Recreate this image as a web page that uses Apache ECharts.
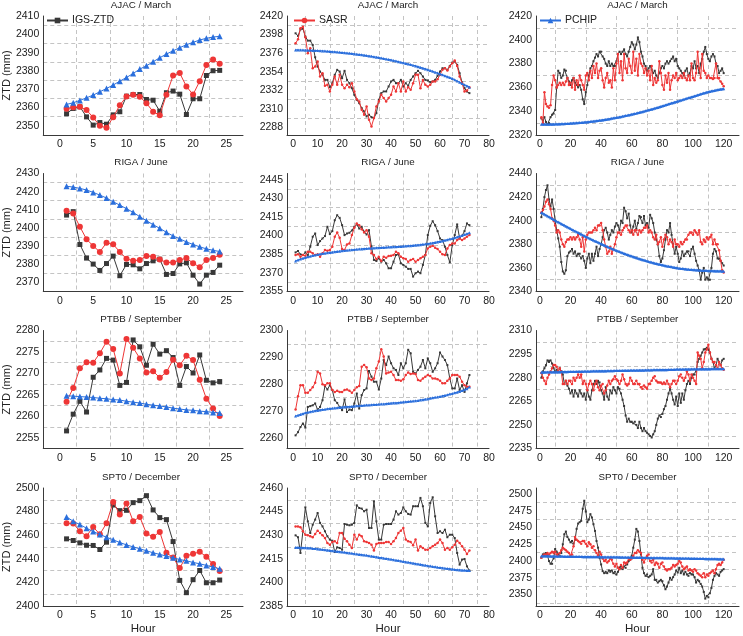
<!DOCTYPE html>
<html><head><meta charset="utf-8">
<script src="https://cdn.jsdelivr.net/npm/echarts@6/dist/echarts.min.js"></script>
<style>html,body{margin:0;padding:0;background:#fff}#c{width:743px;height:636px}</style>
</head><body><div id="c"></div>
<script>
// ---------- x values (hours) ----------
const hours24 = Array.from({length:24},(_,i)=>i+1);
const hours72 = Array.from({length:72},(_,i)=>i+1);
const hours120 = Array.from({length:120},(_,i)=>i+1);

const seriesNames = ['IGS-ZTD','SASR','PCHIP'];
const titles = ['AJAC / March','RIGA / June','PTBB / September','SPT0 / December'];

// ---------- AJAC / March ----------
const ajac24_igs = [2356.6,2359.5,2360.4,2354.9,2350.4,2351.8,2350.9,2356.0,2357.7,2366.2,2367.1,2367.1,2364.4,2364.0,2358.0,2368.1,2369.0,2367.3,2356.2,2364.8,2364.8,2377.5,2380.1,2380.3];
const ajac24_sasr = [2359.3,2360.2,2360.4,2358.6,2354.6,2350.0,2348.9,2354.7,2361.3,2366.0,2367.0,2365.9,2362.4,2357.7,2355.8,2367.0,2377.5,2378.8,2371.5,2367.1,2374.4,2383.2,2386.3,2383.9];
const ajac24_pchip = [2361.7,2362.6,2363.9,2365.3,2366.8,2368.6,2370.4,2372.3,2374.4,2376.4,2378.6,2381.0,2382.8,2385.0,2387.2,2389.2,2391.0,2392.7,2394.3,2395.6,2396.9,2397.8,2398.5,2398.9];

const ajac72_igs = [2399.5,2396.4,2404.2,2405.0,2395.6,2390.8,2390.8,2385.7,2371.1,2360.1,
2354.2,2350.3,2344.3,2344.3,2335.7,2340.4,2350.3,2356.2,2354.2,2346.3,
2355.0,2344.3,2340.4,2334.5,2326.6,2320.7,2316.8,2310.9,2306.9,2301.0,
2303.0,2300.2,2299.0,2304.9,2320.7,2328.6,2330.6,2330.6,2336.5,2342.4,
2344.3,2340.4,2340.4,2344.3,2336.5,2340.4,2337.3,2344.3,2348.3,2352.2,
2355.0,2352.2,2348.3,2344.3,2343.6,2341.6,2342.4,2344.3,2349.1,2354.2,
2358.1,2358.1,2356.2,2360.9,2364.8,2366.0,2362.1,2352.2,2341.2,2334.5,2330.6,2328.6];
const ajac72_sasr = [2387.7,2392.4,2405.4,2407.4,2394.8,2375.9,2381.8,2358.1,2360.1,2366.0,
2348.3,2352.2,2337.3,2338.4,2330.6,2338.4,2348.3,2338.4,2350.3,2338.4,
2334.5,2338.4,2335.7,2340.4,2330.6,2321.5,2318.7,2308.9,2303.0,2312.8,
2297.1,2289.2,2299.0,2312.8,2318.7,2326.6,2322.7,2318.7,2322.7,2326.6,
2336.5,2330.6,2340.4,2330.6,2342.4,2330.6,2335.7,2332.5,2340.4,2350.3,
2350.3,2334.5,2344.3,2338.4,2336.5,2338.4,2342.4,2342.4,2345.1,2350.3,
2356.2,2358.1,2355.4,2360.1,2364.0,2367.2,2360.9,2348.3,2340.4,2330.6,2331.7,2335.7];
const ajac72_pchip = [2379.8,2379.8,2379.7,2379.6,2379.5,2379.4,2379.3,2379.2,2379.1,2379.0,
2378.8,2378.6,2378.4,2378.2,2378.0,2377.7,2377.5,2377.2,2377.0,2376.7,
2376.4,2376.1,2375.8,2375.5,2375.1,2374.8,2374.4,2374.0,2373.6,2373.1,
2372.7,2372.2,2371.7,2371.2,2370.7,2370.1,2369.6,2369.0,2368.5,2368.0,
2367.3,2366.6,2365.9,2365.2,2364.5,2363.8,2363.1,2362.4,2361.6,2360.9,
2360.0,2359.1,2358.2,2357.3,2356.4,2355.4,2354.4,2353.4,2352.4,2351.4,
2350.3,2349.2,2348.1,2347.0,2345.9,2344.5,2343.0,2341.6,2340.1,2338.6,2337.2,2335.7];

const ajac120_igs = [2334,2332,2335,2331,2329,2330,2335,2337,2338,2341,
2360,2374,2372,2368,2370,2375,2374,2368,2365,2362,
2366,2368,2364,2362,2360,2362,2358,2350,2346,2356,
2362,2370,2376,2378,2382,2385,2388,2386,2390,2390,
2386,2384,2380,2378,2382,2378,2380,2378,2378,2382,
2388,2390,2388,2390,2392,2388,2386,2390,2394,2398,
2396,2392,2396,2402,2398,2390,2386,2380,2378,2374,
2376,2378,2375,2372,2374,2370,2368,2372,2376,2378,
2376,2380,2382,2380,2382,2384,2386,2382,2384,2378,
2376,2374,2372,2370,2374,2376,2370,2372,2378,2376,
2382,2376,2378,2372,2380,2384,2390,2394,2388,2384,
2382,2386,2388,2386,2380,2378,2372,2374,2376,2372];
const ajac120_sasr = [2335,2330,2356,2346,2344,2343,2345,2362,2370,2366,
2360,2362,2364,2362,2364,2362,2365,2368,2362,2364,
2360,2368,2358,2366,2362,2370,2366,2362,2358,2370,
2372,2366,2374,2368,2378,2372,2380,2368,2374,2376,
2366,2360,2368,2372,2364,2366,2360,2376,2366,2380,
2388,2372,2382,2366,2388,2376,2372,2384,2378,2372,
2390,2374,2384,2370,2388,2380,2378,2372,2376,2370,
2374,2366,2378,2362,2368,2364,2366,2382,2372,2362,
2358,2370,2364,2372,2358,2366,2370,2368,2372,2366,
2368,2370,2368,2372,2368,2366,2370,2366,2380,2368,
2366,2372,2390,2376,2368,2388,2374,2372,2368,2370,
2368,2368,2367,2368,2380,2368,2368,2365,2363,2361];
const ajac120_pchip = [2329.0,2329.0,2329.0,2329.0,2329.0,2329.1,2329.1,2329.1,2329.1,2329.2,
2329.2,2329.3,2329.3,2329.4,2329.4,2329.5,2329.6,2329.6,2329.7,2329.8,
2329.9,2330.0,2330.1,2330.2,2330.3,2330.4,2330.5,2330.6,2330.8,2330.9,
2331.0,2331.2,2331.3,2331.5,2331.6,2331.8,2332.0,2332.1,2332.3,2332.5,
2332.7,2332.9,2333.1,2333.3,2333.5,2333.7,2334.0,2334.2,2334.4,2334.7,
2334.9,2335.2,2335.4,2335.7,2336.0,2336.3,2336.5,2336.8,2337.1,2337.4,
2337.7,2338.0,2338.3,2338.7,2339.0,2339.3,2339.6,2340.0,2340.3,2340.7,
2341.0,2341.4,2341.7,2342.1,2342.5,2342.8,2343.2,2343.6,2344.0,2344.4,
2344.8,2345.2,2345.6,2346.0,2346.4,2346.8,2347.2,2347.6,2348.0,2348.4,
2348.8,2349.2,2349.6,2350.0,2350.4,2350.8,2351.2,2351.6,2352.0,2352.4,
2352.8,2353.2,2353.6,2354.0,2354.4,2354.8,2355.2,2355.6,2356.0,2356.3,
2356.6,2356.9,2357.2,2357.5,2357.8,2358.1,2358.3,2358.5,2358.7,2358.9];

// ---------- RIGA / June ----------
const riga24_igs = [2407.1,2409.0,2390.9,2383.4,2380.1,2376.6,2380.4,2384.5,2373.7,2379.9,2379.7,2377.5,2380.4,2381.9,2382.8,2374.4,2374.9,2380.2,2380.8,2374.0,2369.1,2374.0,2375.5,2379.5];
const riga24_sasr = [2409.5,2408.0,2400.7,2393.8,2390.1,2386.8,2391.9,2391.0,2386.8,2383.0,2381.9,2382.4,2384.6,2384.1,2382.6,2381.0,2381.0,2382.3,2383.4,2380.6,2378.4,2382.3,2383.4,2385.2];
const riga24_pchip = [2423.0,2422.5,2421.8,2420.9,2419.6,2418.1,2416.5,2414.4,2412.6,2410.6,2408.6,2406.2,2404.0,2401.8,2399.8,2397.6,2395.6,2394.0,2392.3,2390.9,2389.6,2388.5,2387.7,2387.0];

const riga72_igs = [2386.5,2387.6,2384.9,2384.4,2386.5,2384.4,2391.1,2399.1,2401.7,2392.4,
2395.6,2397.7,2399.6,2407.1,2401.2,2403.6,2412.4,2416.4,2414.3,2408.4,
2400.4,2401.7,2402.3,2404.1,2407.1,2409.0,2405.7,2407.1,2403.1,2400.9,
2404.4,2391.1,2380.4,2379.6,2381.7,2379.0,2380.4,2377.7,2373.7,2373.7,
2379.0,2384.4,2384.9,2377.7,2376.4,2375.0,2373.2,2373.2,2367.0,2369.7,
2371.0,2369.7,2376.4,2384.4,2400.4,2407.9,2411.6,2408.4,2403.6,2397.7,
2396.4,2391.1,2384.4,2378.5,2392.4,2400.4,2409.0,2397.7,2399.9,2403.6,2409.8,2408.4];
const riga72_sasr = [2384.4,2384.9,2383.0,2384.4,2383.8,2387.0,2387.0,2385.7,2384.4,2384.9,
2383.0,2385.7,2388.4,2387.9,2388.4,2391.1,2399.1,2402.5,2398.3,2389.2,
2388.4,2392.9,2393.7,2400.4,2406.3,2409.8,2408.4,2405.2,2402.5,2404.4,
2399.1,2385.7,2384.4,2381.2,2383.0,2379.6,2383.0,2382.2,2383.6,2383.8,
2384.4,2387.0,2385.7,2383.0,2381.7,2381.2,2379.0,2380.4,2381.2,2379.0,
2380.4,2381.7,2383.0,2384.4,2389.7,2391.1,2391.9,2390.3,2389.2,2387.0,
2384.9,2384.4,2389.7,2392.4,2393.7,2393.7,2396.4,2397.7,2396.4,2397.7,2399.1,2400.4];
const riga72_pchip = [2379.6,2380.4,2381.1,2381.7,2382.3,2382.9,2383.4,2383.9,2384.3,2384.7,
2385.1,2385.5,2385.8,2386.1,2386.4,2386.7,2387.0,2387.3,2387.5,2387.8,
2388.0,2388.2,2388.4,2388.6,2388.8,2389.0,2389.2,2389.3,2389.5,2389.6,
2389.8,2389.9,2390.0,2390.2,2390.3,2390.4,2390.5,2390.6,2390.8,2390.9,
2391.0,2391.1,2391.2,2391.3,2391.5,2391.6,2391.8,2391.9,2392.1,2392.3,
2392.5,2392.7,2393.0,2393.2,2393.5,2393.8,2394.1,2394.5,2394.9,2395.3,
2395.7,2396.2,2396.7,2397.2,2397.7,2398.3,2398.9,2399.5,2400.1,2400.8,2401.5,2402.2];

const riga120_igs = [2403,2410,2420,2426,2430,2418,2412,2418,2410,2400,
2392,2385,2378,2365,2357,2355,2358,2370,2373,2374,
2376,2372,2374,2370,2372,2372,2368,2370,2366,2360,
2368,2372,2364,2372,2366,2372,2378,2370,2376,2380,
2386,2392,2394,2390,2384,2388,2392,2390,2395,2398,
2396,2392,2400,2398,2411,2408,2402,2406,2396,2390,
2395,2400,2393,2398,2404,2403,2398,2404,2396,2398,
2394,2405,2402,2398,2390,2384,2380,2370,2365,2368,
2375,2384,2392,2390,2398,2388,2380,2372,2378,2372,
2365,2368,2374,2370,2372,2374,2374,2370,2376,2378,
2372,2366,2362,2358,2350,2356,2360,2350,2352,2350,
2350,2360,2372,2376,2374,2368,2368,2366,2364,2362];
const riga120_sasr = [2407,2409,2412,2416,2418,2414,2410,2402,2400,2396,
2390,2392,2390,2384,2380,2378,2382,2384,2384,2386,
2384,2386,2384,2386,2388,2384,2378,2386,2374,2384,
2388,2390,2390,2390,2392,2394,2392,2396,2396,2398,
2392,2384,2378,2372,2374,2378,2372,2376,2380,2386,
2390,2390,2388,2392,2394,2396,2396,2392,2390,2392,
2388,2392,2392,2388,2392,2390,2392,2394,2394,2396,
2390,2392,2390,2386,2384,2388,2380,2382,2386,2378,
2384,2388,2386,2380,2384,2382,2378,2384,2380,2380,
2378,2382,2380,2382,2384,2384,2388,2390,2390,2388,
2392,2390,2388,2392,2382,2380,2384,2382,2386,2384,
2386,2388,2380,2384,2380,2380,2375,2366,2358,2356];
const riga120_pchip = [2407.0,2406.3,2405.5,2404.8,2404.0,2403.3,2402.6,2401.8,2401.1,2400.4,
2399.6,2398.9,2398.2,2397.5,2396.8,2396.1,2395.4,2394.7,2394.0,2393.3,
2392.6,2391.9,2391.2,2390.6,2389.9,2389.2,2388.6,2387.9,2387.3,2386.6,
2386.0,2385.3,2384.7,2384.1,2383.5,2382.9,2382.3,2381.7,2381.1,2380.5,
2379.9,2379.3,2378.7,2378.1,2377.5,2377.0,2376.4,2375.9,2375.3,2374.8,
2374.3,2373.8,2373.3,2372.8,2372.3,2371.8,2371.3,2370.9,2370.4,2370.0,
2369.5,2369.1,2368.7,2368.2,2367.8,2367.4,2367.0,2366.6,2366.2,2365.8,
2365.4,2365.1,2364.7,2364.4,2364.0,2363.7,2363.4,2363.1,2362.8,2362.5,
2362.2,2361.9,2361.6,2361.4,2361.1,2360.9,2360.6,2360.4,2360.2,2359.9,
2359.7,2359.5,2359.4,2359.2,2359.1,2358.9,2358.8,2358.7,2358.6,2358.5,
2358.4,2358.3,2358.2,2358.1,2358.0,2357.9,2357.8,2357.8,2357.7,2357.6,
2357.6,2357.5,2357.5,2357.4,2357.4,2357.3,2357.3,2357.3,2357.2,2357.2];

// ---------- PTBB / September ----------
const ptbb24_igs = [2256.6,2260.5,2263.5,2261.0,2269.1,2270.8,2273.5,2273.1,2267.2,2267.9,2277.8,2276.2,2271.9,2276.8,2274.5,2275.3,2273.7,2267.2,2271.6,2270.1,2274.3,2268.4,2267.8,2268.1];
const ptbb24_sasr = [2263.4,2266.6,2271.2,2272.6,2272.5,2274.7,2277.4,2275.7,2270.0,2278.0,2276.0,2273.5,2270.2,2270.5,2269.0,2270.3,2273.2,2271.9,2274.1,2273.1,2268.5,2264.1,2261.8,2260.1];
const ptbb24_pchip = [2264.8,2264.7,2264.6,2264.5,2264.4,2264.2,2264.1,2263.9,2263.8,2263.5,2263.3,2263.1,2262.8,2262.6,2262.4,2262.2,2261.9,2261.7,2261.5,2261.4,2261.2,2261.1,2260.9,2260.8];

const ptbb72_igs = [2260.9,2262.1,2264.0,2265.3,2263.8,2271.5,2271.8,2272.1,2272.8,2270.5,
2271.5,2274.0,2279.3,2278.0,2279.6,2277.8,2274.0,2273.0,2271.5,2270.3,
2274.3,2269.6,2270.5,2270.3,2272.8,2276.5,2270.9,2275.9,2277.8,2278.4,
2284.9,2282.8,2280.9,2280.9,2278.0,2282.1,2289.0,2287.1,2290.3,2287.8,
2285.9,2285.3,2283.4,2287.8,2285.9,2287.8,2292.8,2291.5,2284.6,2284.0,
2285.3,2286.5,2289.0,2285.9,2289.6,2287.8,2284.6,2285.9,2287.8,2291.8,
2290.3,2289.0,2287.1,2282.1,2278.4,2278.4,2282.1,2277.8,2279.6,2277.1,2280.3,2283.4];
const ptbb72_sasr = [2270.5,2275.5,2279.6,2279.6,2276.8,2276.8,2277.8,2278.8,2280.5,2284.6,
2284.0,2280.0,2279.6,2280.3,2280.3,2277.8,2277.1,2277.5,2277.1,2277.1,
2277.8,2278.0,2277.5,2276.8,2277.8,2278.8,2279.3,2286.5,2287.1,2286.3,
2282.1,2281.5,2282.1,2285.9,2288.4,2293.0,2290.3,2284.0,2284.3,2284.6,
2283.4,2281.5,2281.5,2281.3,2281.8,2283.4,2284.3,2283.8,2284.0,2283.8,
2281.5,2281.3,2282.1,2282.8,2283.4,2283.0,2282.1,2282.1,2281.8,2281.3,
2280.3,2280.3,2281.3,2282.1,2283.4,2283.4,2283.4,2282.8,2280.9,2279.6,2279.0,2279.0];
const ptbb72_pchip = [2268.1,2268.4,2268.7,2269.0,2269.3,2269.5,2269.7,2269.9,2270.1,2270.2,
2270.4,2270.5,2270.6,2270.8,2270.9,2271.0,2271.1,2271.2,2271.3,2271.4,
2271.5,2271.6,2271.6,2271.7,2271.8,2271.9,2271.9,2272.0,2272.1,2272.2,
2272.2,2272.3,2272.4,2272.4,2272.5,2272.6,2272.6,2272.7,2272.8,2272.9,
2273.0,2273.0,2273.1,2273.2,2273.3,2273.4,2273.5,2273.6,2273.7,2273.8,
2273.9,2274.1,2274.2,2274.4,2274.5,2274.7,2274.9,2275.1,2275.2,2275.4,
2275.6,2275.8,2276.0,2276.3,2276.5,2276.8,2277.0,2277.3,2277.6,2277.9,2278.3,2278.9];

const ptbb120_igs = [2280,2284,2286,2288,2291,2290,2291,2289,2286,2284,
2285,2284,2286,2284,2282,2276,2278,2275,2273,2270,
2272,2268,2272,2270,2268,2272,2270,2268,2270,2266,
2272,2268,2266,2272,2276,2278,2276,2278,2277,2272,
2270,2266,2274,2268,2266,2272,2270,2274,2272,2270,
2274,2273,2270,2266,2262,2256,2252,2254,2252,2252,
2251,2252,2250,2248,2252,2248,2246,2248,2246,2245,
2244,2243,2242,2244,2246,2250,2254,2256,2255,2257,
2260,2262,2266,2270,2273,2270,2266,2263,2268,2262,
2270,2264,2270,2266,2272,2276,2278,2276,2280,2282,
2282,2284,2290,2292,2294,2296,2298,2298,2299,2298,
2296,2292,2290,2286,2288,2292,2290,2288,2291,2292];
const ptbb120_sasr = [2283,2280,2278,2276,2280,2282,2284,2286,2288,2288,
2287,2284,2286,2284,2276,2276,2278,2276,2278,2278,
2276,2280,2278,2280,2282,2280,2282,2276,2278,2276,
2272,2276,2278,2276,2272,2276,2278,2274,2272,2275,
2276,2270,2272,2275,2278,2276,2278,2279,2281,2279,
2278,2276,2278,2282,2279,2276,2275,2276,2280,2278,
2276,2276,2278,2276,2276,2274,2273,2275,2274,2273,
2276,2276,2278,2280,2281,2278,2277,2277,2277,2276,
2277,2276,2278,2276,2274,2276,2278,2278,2276,2278,
2281,2282,2280,2278,2280,2284,2282,2278,2282,2280,
2278,2276,2296,2294,2292,2286,2290,2296,2298,2301,
2296,2292,2290,2290,2288,2286,2290,2288,2286,2285];
const ptbb120_pchip = [2283.5,2283.5,2283.5,2283.6,2283.6,2283.6,2283.6,2283.6,2283.7,2283.7,
2283.7,2283.7,2283.7,2283.8,2283.8,2283.8,2283.8,2283.8,2283.9,2283.9,
2283.9,2283.9,2283.9,2284.0,2284.0,2284.0,2284.0,2284.0,2284.1,2284.1,
2284.1,2284.1,2284.1,2284.2,2284.2,2284.2,2284.2,2284.2,2284.3,2284.3,
2284.3,2284.3,2284.3,2284.4,2284.4,2284.4,2284.4,2284.4,2284.5,2284.5,
2284.5,2284.5,2284.5,2284.6,2284.6,2284.6,2284.6,2284.6,2284.7,2284.7,
2284.7,2284.7,2284.7,2284.8,2284.8,2284.8,2284.8,2284.8,2284.9,2284.9,
2284.9,2284.9,2284.9,2285.0,2285.0,2285.0,2285.0,2285.0,2285.1,2285.1,
2285.1,2285.1,2285.1,2285.2,2285.2,2285.2,2285.2,2285.2,2285.3,2285.3,
2285.3,2285.3,2285.3,2285.4,2285.4,2285.4,2285.4,2285.4,2285.5,2285.5,
2285.5,2285.5,2285.5,2285.5,2285.6,2285.6,2285.6,2285.6,2285.6,2285.6,
2285.6,2285.7,2285.7,2285.7,2285.7,2285.7,2285.7,2285.7,2285.7,2285.7];

// ---------- SPT0 / December ----------
const spt024_igs = [2456.9,2455.5,2453.5,2451.5,2451.3,2447.9,2454.1,2485.6,2480.8,2481.1,2487.6,2489.3,2493.5,2481.4,2474.9,2473.2,2454.6,2421.7,2411.3,2422.3,2430.1,2419.7,2419.7,2422.0];
const spt024_sasr = [2470.1,2469.9,2463.4,2459.2,2467.0,2460.8,2470.1,2488.2,2477.5,2486.8,2471.8,2475.5,2461.4,2458.6,2462.8,2445.1,2441.1,2432.1,2442.5,2444.2,2445.9,2441.7,2435.5,2429.6];
const spt024_pchip = [2475.5,2471.8,2469.0,2465.9,2463.1,2460.6,2458.3,2456.1,2453.8,2451.8,2450.1,2448.5,2446.8,2445.1,2443.7,2442.3,2440.8,2439.4,2438.3,2436.9,2435.8,2434.4,2433.0,2431.5];

const spt072_igs = [2429.9,2428.7,2418.7,2432.5,2447.7,2438.8,2431.4,2436.7,2439.9,2444.1,
2437.8,2435.6,2432.5,2429.3,2427.2,2426.5,2419.3,2422.3,2421.9,2420.8,
2437.1,2436.7,2436.3,2436.7,2437.8,2449.0,2447.3,2446.9,2445.2,2446.2,
2434.6,2434.6,2451.5,2438.8,2427.2,2427.2,2436.7,2437.1,2437.1,2437.1,
2439.9,2445.2,2443.1,2444.1,2447.7,2445.2,2443.5,2443.1,2448.4,2448.4,
2448.4,2453.7,2448.4,2437.8,2435.6,2450.5,2454.1,2442.0,2431.4,2432.5,
2431.4,2433.5,2428.7,2430.3,2430.3,2428.2,2418.7,2411.3,2414.5,2414.9,2410.2,2407.5];
const spt072_sasr = [2435.6,2435.6,2435.0,2432.5,2430.3,2429.9,2429.3,2428.7,2430.8,2432.9,
2431.4,2429.9,2428.2,2425.0,2424.0,2425.7,2426.1,2425.0,2431.4,2431.4,
2427.8,2426.1,2424.0,2421.9,2430.3,2427.2,2430.3,2429.3,2426.1,2425.7,
2425.0,2424.0,2420.2,2424.4,2425.0,2425.0,2425.0,2425.7,2425.7,2424.4,
2426.1,2428.2,2431.4,2432.9,2434.6,2427.2,2426.1,2425.7,2423.6,2427.2,
2420.2,2422.9,2421.9,2420.8,2420.8,2421.9,2422.9,2424.0,2425.0,2427.2,
2425.0,2420.8,2421.9,2420.8,2422.3,2424.0,2426.5,2425.0,2422.9,2420.8,2418.1,2420.2];
const spt072_pchip = [2422.2,2422.2,2422.1,2422.1,2422.0,2421.9,2421.8,2421.6,2421.5,2421.3,
2421.1,2420.9,2420.7,2420.5,2420.3,2420.1,2419.9,2419.7,2419.5,2419.3,
2419.1,2418.9,2418.7,2418.5,2418.2,2418.0,2417.8,2417.6,2417.4,2417.2,
2416.9,2416.7,2416.4,2416.2,2415.9,2415.7,2415.4,2415.2,2414.9,2414.7,
2414.4,2414.1,2413.9,2413.6,2413.3,2413.0,2412.8,2412.5,2412.2,2411.9,
2411.7,2411.4,2411.1,2410.9,2410.6,2410.4,2410.1,2409.9,2409.6,2409.4,
2409.2,2409.0,2408.8,2408.6,2408.4,2408.2,2408.0,2407.9,2407.8,2407.7,2407.6,2407.5];

const spt0120_igs = [2405,2410,2408,2412,2408,2400,2396,2396,2404,2418,
2414,2410,2408,2412,2425,2440,2444,2436,2432,2428,
2430,2426,2432,2448,2456,2458,2460,2478,2490,2474,
2458,2462,2470,2465,2455,2445,2430,2420,2405,2395,
2385,2382,2384,2382,2386,2384,2386,2382,2384,2380,
2384,2390,2392,2388,2392,2390,2395,2400,2402,2408,
2420,2432,2448,2444,2430,2410,2390,2382,2378,2380,
2376,2378,2380,2388,2372,2372,2368,2370,2372,2370,
2364,2358,2362,2368,2375,2372,2376,2380,2386,2383,
2390,2382,2386,2380,2384,2380,2378,2382,2380,2380,
2376,2368,2372,2370,2366,2362,2354,2344,2348,2346,
2352,2360,2372,2378,2382,2380,2378,2384,2386,2388];
const spt0120_sasr = [2405,2408,2410,2410,2412,2410,2412,2414,2412,2414,
2410,2408,2412,2416,2420,2418,2416,2414,2412,2408,
2410,2422,2436,2432,2430,2428,2426,2430,2430,2426,
2422,2428,2425,2420,2422,2416,2412,2408,2414,2410,
2404,2400,2402,2398,2400,2404,2402,2396,2392,2396,
2390,2388,2394,2390,2398,2396,2398,2404,2402,2404,
2408,2412,2412,2416,2414,2412,2402,2398,2404,2408,
2410,2400,2398,2402,2394,2398,2396,2390,2396,2398,
2392,2388,2386,2388,2388,2390,2394,2392,2394,2396,
2400,2398,2392,2388,2390,2392,2386,2388,2386,2384,
2388,2386,2382,2380,2378,2376,2382,2376,2380,2378,
2382,2384,2386,2382,2388,2394,2396,2394,2398,2402];
const spt0120_pchip = [2407.5,2407.5,2407.5,2407.4,2407.4,2407.4,2407.3,2407.3,2407.3,2407.2,
2407.2,2407.2,2407.1,2407.1,2407.1,2407.0,2407.0,2407.0,2406.9,2406.9,
2406.9,2406.8,2406.8,2406.8,2406.7,2406.7,2406.7,2406.6,2406.6,2406.6,
2406.5,2406.5,2406.5,2406.4,2406.4,2406.4,2406.3,2406.3,2406.3,2406.2,
2406.2,2406.2,2406.1,2406.1,2406.1,2406.0,2406.0,2406.0,2405.9,2405.9,
2405.9,2405.8,2405.8,2405.8,2405.7,2405.7,2405.7,2405.6,2405.6,2405.6,
2405.5,2405.5,2405.4,2405.4,2405.4,2405.3,2405.3,2405.2,2405.2,2405.2,
2405.1,2405.1,2405.0,2405.0,2405.0,2404.9,2404.9,2404.8,2404.8,2404.8,
2404.7,2404.7,2404.6,2404.6,2404.6,2404.5,2404.5,2404.4,2404.4,2404.4,
2404.3,2404.3,2404.2,2404.2,2404.2,2404.1,2404.1,2404.0,2404.0,2404.0,
2403.9,2403.9,2403.8,2403.8,2403.8,2403.7,2403.7,2403.6,2403.6,2403.5,
2403.5,2403.4,2403.4,2403.3,2403.3,2403.2,2403.2,2403.1,2403.1,2403.0];

// ---------- panel table ----------
const panelData = [
  [[ajac24_igs,ajac24_sasr,ajac24_pchip],[ajac72_igs,ajac72_sasr,ajac72_pchip],[ajac120_igs,ajac120_sasr,ajac120_pchip]],
  [[riga24_igs,riga24_sasr,riga24_pchip],[riga72_igs,riga72_sasr,riga72_pchip],[riga120_igs,riga120_sasr,riga120_pchip]],
  [[ptbb24_igs,ptbb24_sasr,ptbb24_pchip],[ptbb72_igs,ptbb72_sasr,ptbb72_pchip],[ptbb120_igs,ptbb120_sasr,ptbb120_pchip]],
  [[spt024_igs,spt024_sasr,spt024_pchip],[spt072_igs,spt072_sasr,spt072_pchip],[spt0120_igs,spt0120_sasr,spt0120_pchip]]
];
const colHours = [hours24, hours72, hours120];

// axis scale settings: [min, max, step, labelBase, labelEvery, gridBase, gridEvery]
const xScales = [
  [-2.5, 27.5, 2.5, 0, 5, 2.5, 5],
  [-2.5, 80, 2.5, 0, 10, 5, 10],
  [-2.5, 130, 2.5, 0, 20, 10, 20]
];
const yScales = [
  [[2345,2410,5,2350,10,2355,10],[2279,2420,1,2288,22,2299,22],[2320,2420,10,2320,20,2330,20]],
  [[2365,2430,5,2370,10,2375,10],[2355,2450,2.5,2355,15,2362.5,15],[2340,2440,10,2340,20,2350,20]],
  [[2252.5,2280,2.5,2255,5,2257.5,5],[2256,2300,1,2260,10,2265,10],[2235,2310,2.5,2235,15,2242.5,15]],
  [[2400,2500,10,2400,20,2410,20],[2385,2460,2.5,2385,15,2392.5,15],[2333,2509,0.5,2350,25,2337.5,25]]
];

// ---------- layout / style ----------
const FONT = 'Liberation Sans, Arial, sans-serif';
const colBox = [{left:39,width:204},{left:287,width:202},{left:536,width:203}];
const rowBox = [{top:16,height:119},{top:173.5,height:118},{top:330.5,height:118},{top:488,height:118}];
const GRID_C = '#c4c4c4';
const NONE = 'rgba(0,0,0,0)';
const COLORS = ['#383838','#ee3636','#2b6fdc'];

function isMul(x, m){ const q = x/m; return Math.abs(q - Math.round(q)) < 1e-6; }
function mkAxis(s, idx, extra){
  const [mn,mx,st,l0,le,g0,ge] = s;
  const n = Math.round((mx-mn)/st);
  const cols = [];
  for (let i=0;i<=n;i++){
    const v = mn + i*st;
    cols.push((i===0||i===n) ? NONE : (isMul(v-g0,ge) ? GRID_C : NONE));
  }
  return Object.assign({
    type:'value', gridIndex:idx, min:mn, max:mx, interval:st,
    axisLine:{show:true,onZero:false,lineStyle:{color:'#3a3a3a',width:1}},
    axisTick:{show:false},
    axisLabel:{show:true,showMinLabel:true,showMaxLabel:true,fontSize:10.5,color:'#222',fontFamily:FONT,margin:4,
      formatter:v=>isMul(v-l0,le)?String(Math.round(v*100)/100):''},
    splitLine:{show:true,lineStyle:{color:cols,type:[4,3],width:1}}
  }, extra||{});
}

const grids=[], xAxes=[], yAxes=[], series=[], titleList=[];
for (let r=0;r<4;r++){
  for (let c=0;c<3;c++){
    const idx = r*3+c;
    grids.push({left:colBox[c].left, width:colBox[c].width, top:rowBox[r].top, height:rowBox[r].height});
    xAxes.push(mkAxis(xScales[c], idx, r===3 ? {name:'Hour',nameLocation:'middle',nameGap:17,
      nameTextStyle:{fontSize:11.5,color:'#222',fontFamily:FONT}} : {}));
    yAxes.push(mkAxis(yScales[r][c], idx, c===0 ? {name:'ZTD (mm)',nameLocation:'middle',nameGap:27,
      nameTextStyle:{fontSize:11,color:'#222',fontFamily:FONT}} : {}));
    titleList.push({text:titles[r], left:colBox[c].left+colBox[c].width/2, top:rowBox[r].top-16, textAlign:'center', padding:0,
      textStyle:{fontSize:9.8,fontWeight:'normal',color:'#222',fontFamily:FONT}});
    const hrs = colHours[c];
    const dense = c>0;
    const syms = ['rect','circle','triangle'];
    const sizes = dense ? [2,2.5,3] : [5,6,6];
    const widths = dense ? [1,1,1.2] : [1,1,1];
    for (let k=0;k<3;k++){
      const vals = panelData[r][c][k];
      series.push({type:'line', name:seriesNames[k], xAxisIndex:idx, yAxisIndex:idx,
        data: hrs.map((h,i)=>[h, vals[i]]),
        symbol:syms[k], symbolSize:sizes[k], showSymbol:true,
        lineStyle:{color:COLORS[k],width:widths[k]}, itemStyle:{color:COLORS[k]},
        animation:false, silent:true, z:2+k});
    }
  }
}

const legends = [
  {data:['IGS-ZTD'], left:46, top:15},
  {data:['SASR'], left:293, top:15},
  {data:['PCHIP'], left:539, top:15}
].map(l=>Object.assign(l,{orient:'horizontal',padding:0,itemWidth:21,itemHeight:7,itemGap:5,
  textStyle:{fontSize:10.5,color:'#222',fontFamily:FONT,padding:[0,0,0,-1]},selectedMode:false}));

const chart = echarts.init(document.getElementById('c'), null, {renderer:'canvas'});
chart.setOption({
  backgroundColor:'#fff', animation:false,
  title:titleList, grid:grids, xAxis:xAxes, yAxis:yAxes, legend:legends, series:series
});
</script></body></html>
